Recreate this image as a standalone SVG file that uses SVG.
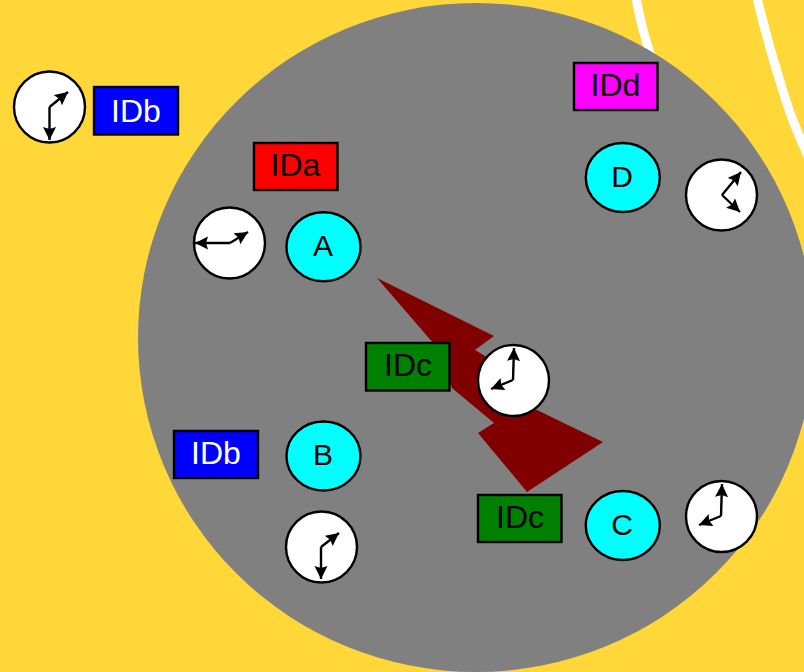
<svg xmlns="http://www.w3.org/2000/svg" width="804" height="672" viewBox="0 0 804 672">
<style>
text{font-family:"Liberation Sans",Arial,sans-serif;font-size:32px;text-anchor:middle}
text.letter{font-size:30px}
.box{stroke:#000;stroke-width:2.400}
.node{fill:#0ff;stroke:#000;stroke-width:2.400}
.face{fill:#fff;stroke:#000;stroke-width:2.400}
.hand{fill:none;stroke:#000;stroke-width:2.400;marker-end:url(#arrow)}
.w{fill:#fff}
.k{fill:#000}
.ring{fill:none;stroke:#fff;stroke-width:9}
</style>
<defs>
<marker id="arrow" markerUnits="userSpaceOnUse" markerWidth="15" markerHeight="14" refX="13" refY="6.500" orient="auto"><path d="M0 0L13 6.500L0 13L2 6.500Z" fill="#000"/></marker>
</defs>
<rect width="804" height="672" fill="#ffd738"/>
<path class="ring" d="M636 -2Q641 26 652 60"/>
<path class="ring" d="M757 -2Q768 44 782 88Q792 122 808 156"/>
<ellipse cx="476" cy="337.500" rx="338" ry="334.500" fill="#808080"/>
<polygon fill="#800000" points="377,278 494,336 475,350 500,365 500,392 603,442 527,492 478,433 494,423 452,388 440,351"/>
<g id="connectors"></g>
<g id="clock-outer"><circle class="face" cx="49.500" cy="107" r="35.500"/><path class="hand" d="M49.500 107L68 92"/><path class="hand" d="M49.500 107V140"/></g>
<g id="label-outer"><rect class="box" x="94" y="87" width="84" height="47.500" fill="#00f"/><text class="w" x="136" y="122">IDb</text></g>
<g id="label-a"><rect class="box" x="254" y="143" width="83.500" height="47" fill="#f00"/><text class="k" x="295.500" y="176">IDa</text></g>
<g id="node-a"><ellipse class="node" cx="323.500" cy="246.700" rx="37" ry="34.500"/><text class="k letter" x="323" y="256">A</text></g>
<g id="clock-a"><circle class="face" cx="229.500" cy="243" r="35.500"/><path class="hand" d="M230 243L248 232"/><path class="hand" d="M230 243H195"/></g>
<g id="label-d"><rect class="box" x="574" y="63" width="83.500" height="47" fill="#f0f"/><text class="k" x="615.500" y="96">IDd</text></g>
<g id="node-d"><ellipse class="node" cx="622.800" cy="177.500" rx="37" ry="34.500"/><text class="k letter" x="622" y="187">D</text></g>
<g id="clock-d"><circle class="face" cx="721.500" cy="195" r="35.500"/><path class="hand" d="M722 195L741 172"/><path class="hand" d="M722 195L740 212"/></g>
<g id="label-c1"><rect class="box" x="366" y="343" width="83.500" height="47.500" fill="#008000"/><text class="k" x="408" y="376">IDc</text></g>
<g id="clock-c1"><circle class="face" cx="513.500" cy="380.500" r="35.500"/><path class="hand" d="M513 380L514 348"/><path class="hand" d="M513 380L491 389"/></g>
<g id="label-b"><rect class="box" x="174" y="431" width="84" height="47" fill="#00f"/><text class="w" x="216" y="464">IDb</text></g>
<g id="node-b"><ellipse class="node" cx="323.500" cy="456" rx="37" ry="34.500"/><text class="k letter" x="323" y="465">B</text></g>
<g id="clock-b"><circle class="face" cx="321.500" cy="547" r="35.500"/><path class="hand" d="M321 547L339 533"/><path class="hand" d="M321 547V579"/></g>
<g id="label-c"><rect class="box" x="478" y="495" width="83.500" height="47" fill="#008000"/><text class="k" x="520" y="528">IDc</text></g>
<g id="node-c"><ellipse class="node" cx="622.800" cy="525.500" rx="37" ry="34.500"/><text class="k letter" x="622" y="535">C</text></g>
<g id="clock-c"><circle class="face" cx="721.500" cy="516.500" r="35.500"/><path class="hand" d="M721 516L722 484"/><path class="hand" d="M721 516L699 525"/></g>
</svg>
